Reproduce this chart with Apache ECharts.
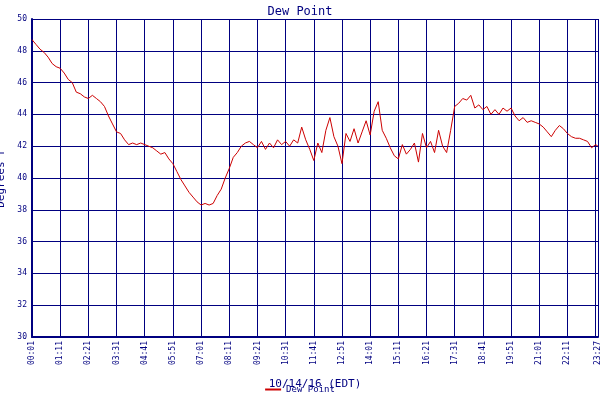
<!DOCTYPE html>
<html><head><meta charset="utf-8">
<script src="https://cdn.jsdelivr.net/npm/echarts@6/dist/echarts.min.js"></script>
<style>html,body{margin:0;padding:0;background:#fff}#c{width:600px;height:400px}</style>
</head><body><div id="c"></div>
<script>
// minutes after 00:01, every 10 min, then end point
const dewValues = [
48.7,48.4,48.1,47.9,47.6,47.2,47.0,
46.9,46.6,46.2,46.0,45.4,45.3,45.1,
45.0,45.2,45.0,44.8,44.5,43.9,43.4,
42.9,42.8,42.4,42.1,42.2,42.1,42.2,
42.1,42.0,41.9,41.7,41.5,41.6,41.2,
40.9,40.4,39.9,39.5,39.1,38.8,38.5,
38.3,38.4,38.3,38.4,38.9,39.3,40.0,
40.6,41.3,41.6,42.0,42.2,42.3,42.1,
41.9,42.3,41.8,42.2,41.9,42.4,42.1,
42.3,42.0,42.4,42.2,43.2,42.4,41.8,
41.1,42.2,41.6,43.0,43.8,42.6,42.0,
40.9,42.8,42.3,43.1,42.2,42.9,43.6,
42.7,44.2,44.8,43.0,42.5,41.9,41.4,
41.2,42.1,41.5,41.8,42.2,41.0,42.8,
41.9,42.3,41.6,43.0,42.0,41.6,43.0,
44.5,44.7,45.0,44.9,45.2,44.4,44.6,
44.3,44.5,44.0,44.3,44.0,44.4,44.2,
44.4,43.9,43.6,43.8,43.5,43.6,43.5,
43.4,43.2,42.9,42.6,43.0,43.3,43.1,
42.8,42.6,42.5,42.5,42.4,42.3,41.9,
42.1,42.0];
const dewTimes = dewValues.map((v,i)=> i < dewValues.length-1 ? i*10 : 1406);
const yTicks = [30,32,34,36,38,40,42,44,46,48,50];
const navy = '#000080';
const font = '"DejaVu Sans Mono", monospace';
function fmt(t){ const m = t + 1; const h = Math.floor(m/60)%24, mm = m%60; return String(h).padStart(2,'0')+':'+String(mm).padStart(2,'0'); }
const chart = echarts.init(document.getElementById('c'));
chart.setOption({
  animation:false,
  title:{text:'Dew Point',left:'center',top:1,textStyle:{color:navy,fontFamily:font,fontSize:12,fontWeight:'normal'}},
  legend:{bottom:1,left:'center',itemWidth:16,itemHeight:2,icon:'rect',textStyle:{color:navy,fontFamily:font,fontSize:9},data:['Dew Point']},
  grid:{left:32,right:2,top:19,bottom:63,containLabel:false,outerBoundsMode:'none'},
  xAxis:{type:'value',min:0,max:1406,interval:70,
    name:'10/14/16 (EDT)',nameLocation:'middle',nameGap:42,nameTextStyle:{color:navy,fontFamily:font,fontSize:11},
    axisLine:{lineStyle:{color:navy,width:2}},axisTick:{show:false},
    axisLabel:{rotate:90,color:navy,fontFamily:font,fontSize:8,margin:4,showMaxLabel:true,formatter:v=>fmt(v)},
    splitLine:{show:true,lineStyle:{color:navy,width:1}}},
  yAxis:{type:'value',min:yTicks[0],max:yTicks[yTicks.length-1],interval:2,
    name:'Degrees F',nameLocation:'middle',nameGap:22,nameTextStyle:{color:navy,fontFamily:font,fontSize:11},
    axisLine:{show:true,lineStyle:{color:navy,width:2}},axisTick:{show:false},
    axisLabel:{color:navy,fontFamily:font,fontSize:8,margin:5},
    splitLine:{show:true,lineStyle:{color:navy,width:1}}},
  series:[{name:'Dew Point',type:'line',symbol:'none',
    data:dewTimes.map((t,i)=>[t,dewValues[i]]),
    lineStyle:{color:'#cc0000',width:1},itemStyle:{color:'#cc0000'}}]
});
</script></body></html>
